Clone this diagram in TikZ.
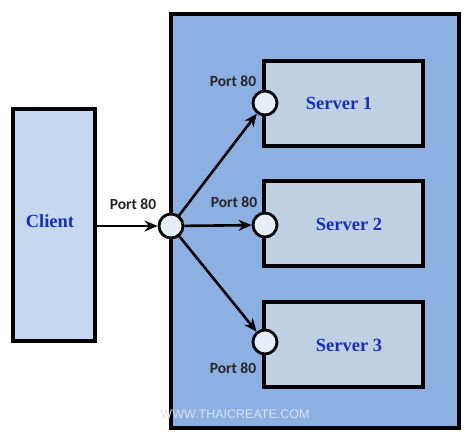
\documentclass[tikz,border=0pt]{standalone}
\usepackage{fontspec}
\setmainfont{Liberation Serif}
\newfontfamily\portfont{Carlito}
\newfontfamily\wmfont{Liberation Sans}
\usetikzlibrary{arrows.meta}
\definecolor{outerblue}{HTML}{8DB0E3}
\definecolor{clientblue}{HTML}{C5D8F0}
\definecolor{servergray}{HTML}{BFD0E3}
\definecolor{portfill}{HTML}{E6EEF8}
\definecolor{labelblue}{HTML}{1A2DBF}
\tikzset{
  boxstyle/.style={draw=black, line width=3.3pt, inner sep=0pt},
  portcircle/.style={circle, draw=black, line width=2.8pt, fill=portfill, minimum size=24pt, inner sep=0pt},
  boxlabel/.style={font=\fontsize{18.5}{20}\selectfont\bfseries, text=labelblue},
  portlabel/.style={font=\portfont\fontsize{15.5}{17}\selectfont\bfseries, text=black!85},
  conn/.style={line width=2.6pt, -{Stealth[length=13pt,width=11pt]}}
}
\begin{document}
\begin{tikzpicture}[x=1pt,y=-1pt]
\useasboundingbox (0,0) rectangle (473,440);
\node[boxstyle, fill=outerblue, minimum width=288pt, minimum height=414pt] (outer) at (315,221) {};
\node[boxstyle, fill=clientblue, minimum width=82pt, minimum height=232pt] (client) at (54,225) {};
\node[boxlabel] (clienttext) at (50,221) {Client};
\node[boxstyle, fill=servergray, minimum width=159pt, minimum height=85pt] (s1) at (343.5,103.5) {};
\node[boxstyle, fill=servergray, minimum width=159pt, minimum height=85pt] (s2) at (343.5,223.5) {};
\node[boxstyle, fill=servergray, minimum width=159pt, minimum height=85pt] (s3) at (343.5,344.5) {};
\node[boxlabel] (s1text) at (339,103) {Server 1};
\node[boxlabel] (s2text) at (349,224) {Server 2};
\node[boxlabel] (s3text) at (349,345) {Server 3};
\node[portcircle] (hub) at (171,226) {};
\node[portcircle] (p1) at (265,103) {};
\node[portcircle] (p2) at (265,225) {};
\node[portcircle] (p3) at (265,342) {};
\node[portlabel] (hubl) at (133,204) {Port 80};
\node[portlabel] (p1l) at (233,81) {Port 80};
\node[portlabel] (p2l) at (234,202) {Port 80};
\node[portlabel] (p3l) at (233,368) {Port 80};
\draw[conn] (client.east |- hub) -- (hub);
\draw[conn] (hub) -- (p1);
\draw[conn] (hub) -- (p2);
\draw[conn] (hub) -- (p3);
\node[font=\wmfont\fontsize{12.5}{14}\selectfont, text=white!65!outerblue] (wm) at (235,414) {WWW.THAICREATE.COM};
\end{tikzpicture}
\end{document}
